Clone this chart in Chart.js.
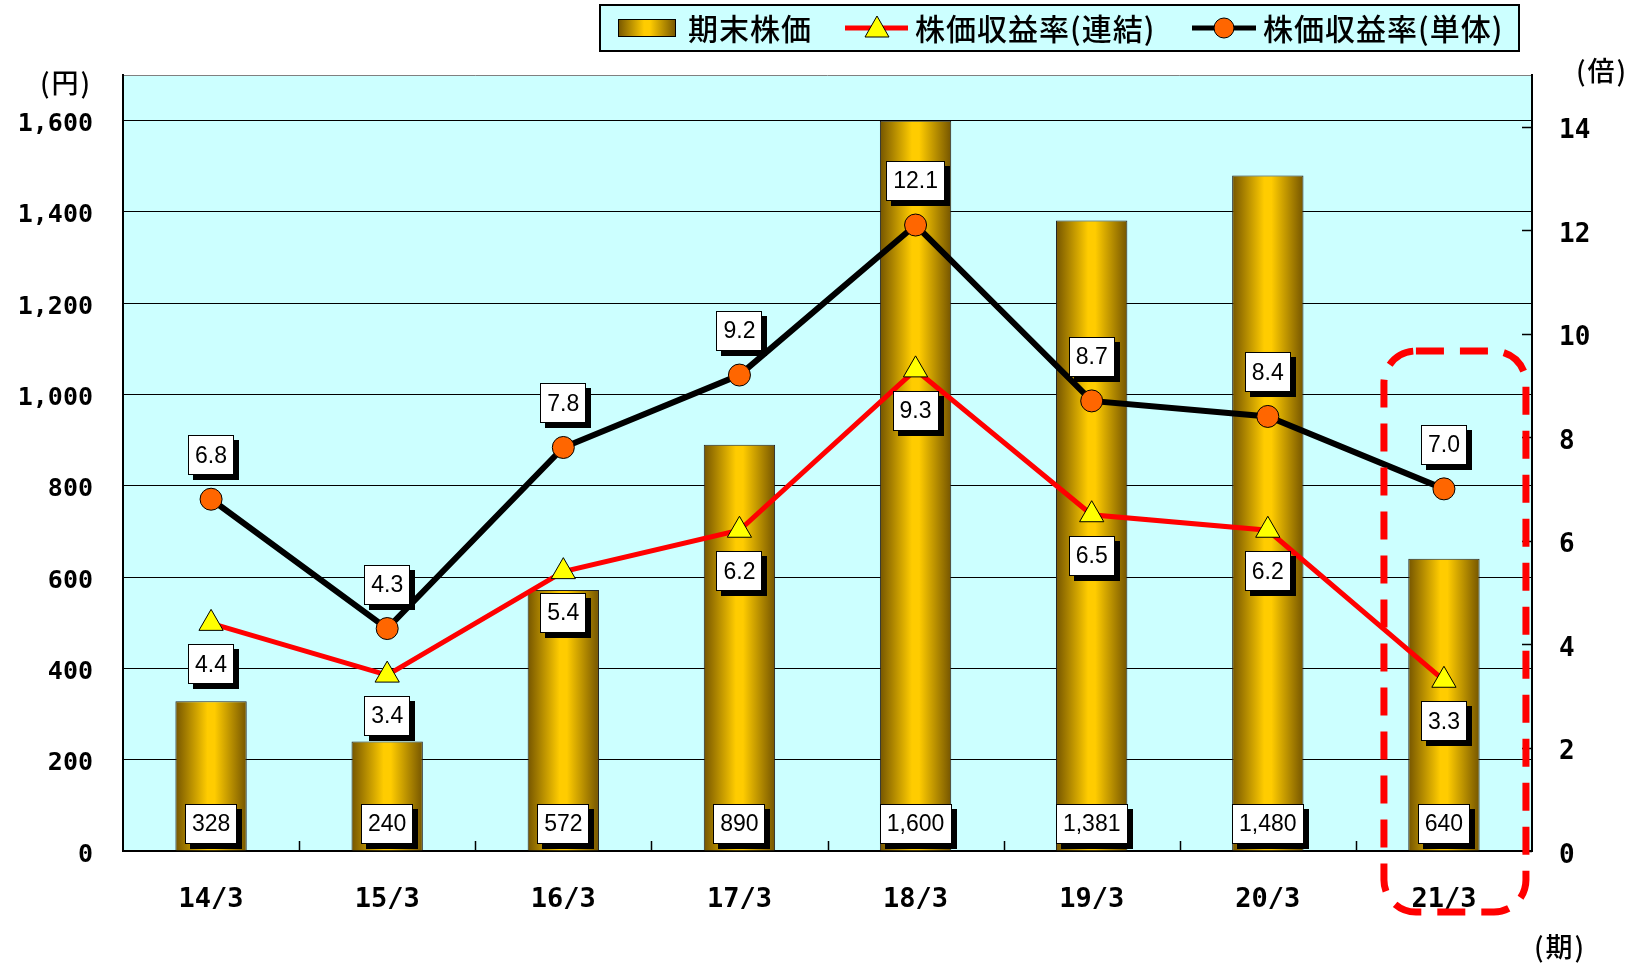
<!DOCTYPE html>
<html>
<head>
<meta charset="utf-8">
<script src="https://cdn.jsdelivr.net/npm/chart.js@4.4.1/dist/chart.umd.min.js"></script>
<style>
  html, body { margin: 0; padding: 0; background: #fff; }
  #wrap { width: 1643px; height: 967px; }
</style>
</head>
<body>
<div id="wrap"><canvas id="c" width="1643" height="967"></canvas></div>
<script>
// ---- data ----
const categories = [ '14/3', '15/3', '16/3', '17/3', '18/3', '19/3', '20/3', '21/3' ];
const stockPrice = [ 328, 240, 572, 890, 1600, 1381, 1480, 640 ];        // 期末株価 (円)
const perConsolidated = [ 4.4, 3.4, 5.4, 6.2, 9.3, 6.5, 6.2, 3.3 ];     // 株価収益率(連結)
const perSingle = [ 6.8, 4.3, 7.8, 9.2, 12.1, 8.7, 8.4, 7.0 ];           // 株価収益率(単体)
const priceTicks = [ 0, 200, 400, 600, 800, 1000, 1200, 1400, 1600 ];
const perTicks = [ 0, 2, 4, 6, 8, 10, 12, 14 ];
const seriesNames = [ '期末株価', '株価収益率(連結)', '株価収益率(単体)' ];

const BAR_PCT = 0.405;
const MONO = '"DejaVu Sans Mono", monospace';
const CJK = '"Noto Sans CJK JP", sans-serif';
const TAG_FONT = '23px "Liberation Sans Narrow", "Arial Narrow", "Liberation Sans", sans-serif';

function goldGradient ( ctx, x0, x1 ) {
    const g = ctx.createLinearGradient( x0, 0, x1, 0 );
    g.addColorStop( 0, '#755500' );
    g.addColorStop( 0.45, '#FFCC00' );
    g.addColorStop( 0.55, '#FFCC00' );
    g.addColorStop( 1, '#755500' );
    return g;
}

function barFill ( c ) {
    const chart = c.chart;
    const xs = chart.scales.x;
    if ( !xs || c.type !== 'data' ) return '#FFCC00';
    const cx = xs.getPixelForValue( c.dataIndex );
    const half = xs.width / categories.length * BAR_PCT / 2;
    if ( !isFinite( cx ) || !isFinite( half ) || half <= 0 ) return '#FFCC00';
    return goldGradient( chart.ctx, cx - half, cx + half );
}

// white label with a black drop shadow
function drawTag ( ctx, text, cx, cy ) {
    ctx.save();
    ctx.font = TAG_FONT;
    const w = Math.round( ctx.measureText( text ).width + 14 );
    const h = 40;
    const x = Math.round( cx - w / 2 ), y = Math.round( cy - h / 2 );
    ctx.fillStyle = '#000';
    ctx.fillRect( x + 5, y + 5, w, h );
    ctx.fillStyle = '#fff';
    ctx.fillRect( x, y, w, h );
    ctx.strokeStyle = '#000';
    ctx.lineWidth = 1;
    ctx.strokeRect( x + 0.5, y + 0.5, w - 1, h - 1 );
    ctx.fillStyle = '#000';
    ctx.textAlign = 'center';
    ctx.textBaseline = 'middle';
    ctx.fillText( text, cx, cy + 1 );
    ctx.restore();
}

const decorPlugin = {
    id: 'decor',
    beforeDraw ( chart ) {
        const { ctx, chartArea: a } = chart;
        ctx.save();
        ctx.fillStyle = '#CCFFFF';
        ctx.fillRect( a.left, a.top, a.right - a.left, a.bottom - a.top );
        ctx.strokeStyle = '#808080';
        ctx.lineWidth = 1;
        ctx.beginPath();
        ctx.moveTo( a.left, a.top + 0.5 );
        ctx.lineTo( a.right, a.top + 0.5 );
        ctx.stroke();
        ctx.restore();
    },
    afterDatasetsDraw ( chart ) {
        const { ctx, chartArea: a } = chart;
        const xs = chart.scales.x, y1 = chart.scales.y1;

        // short inward tick marks on the right axis and on the category axis
        ctx.save();
        ctx.strokeStyle = '#000';
        ctx.lineWidth = 1.5;
        ctx.beginPath();
        perTicks.forEach( v => {
            const py = Math.round( y1.getPixelForValue( v ) ) + 0.5;
            ctx.moveTo( a.right - 10, py );
            ctx.lineTo( a.right, py );
        } );
        const step = xs.width / categories.length;
        for ( let i = 1; i < categories.length; i++ ) {
            const px = Math.round( xs.left + step * i ) + 0.5;
            ctx.moveTo( px, a.bottom );
            ctx.lineTo( px, a.bottom - 10 );
        }
        ctx.stroke();
        ctx.restore();

        // value tags
        const barMeta = chart.getDatasetMeta( 0 );
        const conMeta = chart.getDatasetMeta( 1 );
        const sinMeta = chart.getDatasetMeta( 2 );
        barMeta.data.forEach( ( el, i ) => {
            drawTag( ctx, stockPrice[ i ].toLocaleString( 'en-US' ), el.x, a.bottom - 27 );
        } );
        conMeta.data.forEach( ( el, i ) => {
            drawTag( ctx, perConsolidated[ i ].toFixed( 1 ), el.x, el.y + 41 );
        } );
        sinMeta.data.forEach( ( el, i ) => {
            drawTag( ctx, perSingle[ i ].toFixed( 1 ), el.x, el.y - 44 );
        } );

        // red dashed highlight round the latest period
        const last = barMeta.data[ categories.length - 1 ];
        ctx.save();
        ctx.strokeStyle = '#FF0000';
        ctx.lineWidth = 7;
        ctx.setLineDash( [ 28, 16 ] );
        ctx.beginPath();
        ctx.roundRect( last.x - 60, a.top + 276, 142, a.bottom + 61 - ( a.top + 276 ), 32 );
        ctx.stroke();
        ctx.restore();
    },
    afterDraw ( chart ) {
        const { ctx } = chart;
        ctx.save();
        // unit labels
        ctx.fillStyle = '#000';
        ctx.font = '500 27px ' + CJK;
        ctx.letterSpacing = '2px';
        ctx.textAlign = 'center';
        ctx.textBaseline = 'middle';
        ctx.fillText( '(円)', 66, 83 );
        ctx.fillText( '(倍)', 1602, 71 );
        ctx.fillText( '(期)', 1560, 947 );

        // legend
        const lx = 600, ly = 5, lw = 919, lh = 46;
        ctx.fillStyle = '#CCFFFF';
        ctx.fillRect( lx, ly, lw, lh );
        ctx.strokeStyle = '#000';
        ctx.lineWidth = 2;
        ctx.strokeRect( lx, ly, lw, lh );
        const my = ly + lh / 2;

        ctx.fillStyle = goldGradient( ctx, 618, 676 );
        ctx.fillRect( 618, my - 9, 58, 18 );
        ctx.strokeStyle = '#000';
        ctx.lineWidth = 1;
        ctx.strokeRect( 618.5, my - 9 + 0.5, 57, 17 );

        ctx.strokeStyle = '#FF0000';
        ctx.lineWidth = 5;
        ctx.beginPath(); ctx.moveTo( 845, my ); ctx.lineTo( 908, my ); ctx.stroke();
        ctx.fillStyle = '#FFFF00';
        ctx.strokeStyle = '#000';
        ctx.lineWidth = 1;
        ctx.beginPath();
        ctx.moveTo( 877, my - 12 ); ctx.lineTo( 889, my + 9 ); ctx.lineTo( 865, my + 9 ); ctx.closePath();
        ctx.fill(); ctx.stroke();

        ctx.strokeStyle = '#000';
        ctx.lineWidth = 5;
        ctx.beginPath(); ctx.moveTo( 1192, my ); ctx.lineTo( 1256, my ); ctx.stroke();
        ctx.fillStyle = '#FF6600';
        ctx.lineWidth = 1;
        ctx.beginPath(); ctx.arc( 1224, my, 10, 0, Math.PI * 2 ); ctx.fill(); ctx.stroke();

        ctx.fillStyle = '#000';
        ctx.font = '500 30px ' + CJK;
        ctx.letterSpacing = '1px';
        ctx.textAlign = 'left';
        ctx.fillText( seriesNames[ 0 ], 688, my + 1 );
        ctx.fillText( seriesNames[ 1 ], 915, my + 1 );
        ctx.fillText( seriesNames[ 2 ], 1263, my + 1 );
        ctx.restore();
    }
};

new Chart( document.getElementById( 'c' ), {
    data: {
        labels: categories,
        datasets: [
            {
                type: 'bar',
                label: seriesNames[ 0 ],
                data: stockPrice,
                yAxisID: 'y',
                backgroundColor: barFill,
                borderColor: '#222',
                borderWidth: 1,
                barPercentage: BAR_PCT,
                categoryPercentage: 1,
                order: 3
            },
            {
                type: 'line',
                label: seriesNames[ 1 ],
                data: perConsolidated,
                yAxisID: 'y1',
                borderColor: '#FF0000',
                borderWidth: 5,
                pointStyle: 'triangle',
                pointRadius: 14,
                pointBackgroundColor: '#FFFF00',
                pointBorderColor: '#000',
                pointBorderWidth: 1,
                tension: 0,
                order: 2
            },
            {
                type: 'line',
                label: seriesNames[ 2 ],
                data: perSingle,
                yAxisID: 'y1',
                borderColor: '#000',
                borderWidth: 6,
                pointStyle: 'circle',
                pointRadius: 11,
                pointBackgroundColor: '#FF6600',
                pointBorderColor: '#000',
                pointBorderWidth: 1,
                tension: 0,
                order: 1
            }
        ]
    },
    options: {
        responsive: false,
        animation: false,
        layout: { padding: { top: 75, left: 0, right: 0, bottom: 0 } },
        plugins: {
            legend: { display: false },
            tooltip: { enabled: false }
        },
        scales: {
            x: {
                offset: true,
                grid: { display: false },
                border: { display: true, color: '#000', width: 2 },
                ticks: { color: '#000', font: { family: MONO, size: 27, weight: 'bold' }, padding: 25, maxRotation: 0 },
                afterFit ( s ) { s.height = 116; }
            },
            y: {
                position: 'left',
                min: 0,
                max: 1700,
                afterBuildTicks ( s ) { s.ticks = priceTicks.map( v => ( { value: v } ) ); },
                grid: { color: '#000', lineWidth: 1, drawTicks: false },
                border: { display: true, color: '#000', width: 2 },
                ticks: {
                    color: '#000', font: { family: MONO, size: 25, weight: 'bold' }, padding: 30,
                    labelOffset: 4,
                    callback: v => v.toLocaleString( 'en-US' )
                },
                afterFit ( s ) { s.width = 123; }
            },
            y1: {
                position: 'right',
                min: 0,
                max: 15,
                afterBuildTicks ( s ) { s.ticks = perTicks.map( v => ( { value: v } ) ); },
                grid: { drawOnChartArea: false, drawTicks: false },
                border: { display: true, color: '#000', width: 2 },
                ticks: { color: '#000', font: { family: MONO, size: 26, weight: 'bold' }, padding: 27, labelOffset: 5 },
                afterFit ( s ) { s.width = 111; }
            }
        }
    },
    plugins: [ decorPlugin ]
} );
</script>
</body>
</html>
